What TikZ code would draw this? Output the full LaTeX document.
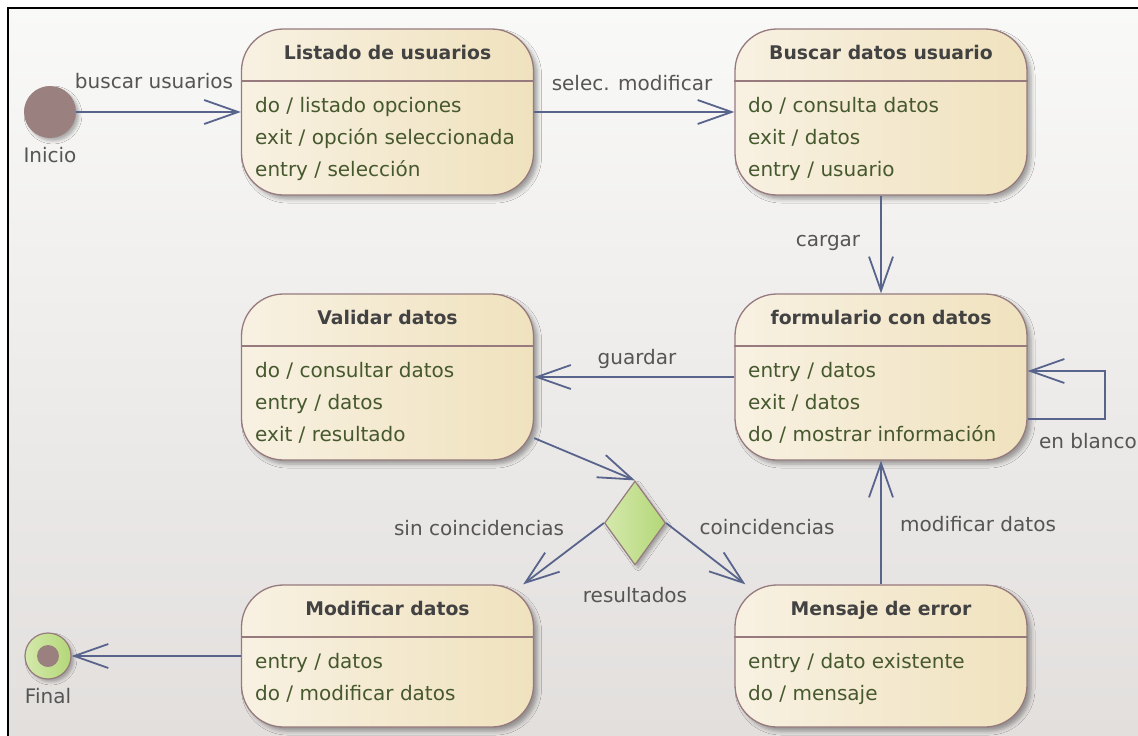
\documentclass[tikz,border=0pt]{standalone}
\usepackage{fontspec}
\setmainfont{DejaVu Sans}
\usetikzlibrary{arrows.meta,shapes.geometric,shadows.blur}
\definecolor{bgtop}{RGB}{249,249,248}
\definecolor{bgbot}{RGB}{226,223,221}
\definecolor{boxborder}{RGB}{150,122,125}
\definecolor{boxleft}{RGB}{248,241,226}
\definecolor{boxright}{RGB}{240,226,190}
\definecolor{bodyc}{RGB}{70,88,45}
\definecolor{titlec}{RGB}{66,66,66}
\definecolor{labelc}{RGB}{85,85,85}
\definecolor{arrowc}{RGB}{88,100,140}
\definecolor{initc}{RGB}{155,128,128}
\definecolor{greenl}{RGB}{212,233,172}
\definecolor{greenr}{RGB}{180,215,120}
\tikzset{
  statebox/.style={draw=boxborder, line width=1.3pt, rounded corners=42pt,
    left color=boxleft, right color=boxright, minimum width=292pt, inner sep=0pt,
    blur shadow={shadow xshift=4pt, shadow yshift=-4pt, shadow blur radius=4pt, shadow opacity=35}},
  ttl/.style={font=\fontsize{18.8}{22}\selectfont\bfseries, text=titlec, anchor=base, inner sep=0pt},
  body/.style={font=\fontsize{20}{24}\selectfont, text=bodyc, anchor=base west, inner sep=0pt},
  lbl/.style={font=\fontsize{20}{24}\selectfont, text=labelc, anchor=base, inner sep=0pt},
  sepline/.style={draw=boxborder, line width=1.3pt},
  arr/.style={draw=arrowc, line width=1.8pt, -{Straight Barb[length=34pt,width=24pt]}},
  initst/.style={circle, fill=initc, minimum size=52pt, inner sep=0pt,
    blur shadow={shadow xshift=3pt, shadow yshift=-3pt, shadow blur radius=3pt, shadow opacity=30}},
  finalst/.style={circle, draw=boxborder, line width=1.2pt, left color=greenl, right color=greenr,
    minimum size=46pt, inner sep=0pt,
    blur shadow={shadow xshift=3pt, shadow yshift=-3pt, shadow blur radius=3pt, shadow opacity=30}},
  finaldot/.style={circle, fill=initc, minimum size=22pt, inner sep=0pt},
  decision/.style={diamond, draw=boxborder, line width=1.2pt, left color=greenl, right color=greenr,
    minimum width=61pt, minimum height=84pt, inner sep=0pt,
    blur shadow={shadow xshift=3pt, shadow yshift=-3pt, shadow blur radius=3pt, shadow opacity=30}}
}
\begin{document}
\begin{tikzpicture}[x=1pt,y=-1pt]
\useasboundingbox (0,0) rectangle (1138,736);
\fill[white] (0,0) rectangle (1138,736);
\shade[top color=bgtop, bottom color=bgbot] (8,8) rectangle (1138,736);
\draw[black, line width=2pt] (8,736) -- (8,8) -- (1138,8);

% states
\node[statebox, minimum height=166pt] (listado) at (387.5,112) {};
\node[statebox, minimum height=166pt] (buscar) at (881,112) {};
\node[statebox, minimum height=166pt] (validar) at (387.5,377) {};
\node[statebox, minimum height=166pt] (form) at (881,377) {};
\node[statebox, minimum height=142pt] (modif) at (387.5,656) {};
\node[statebox, minimum height=142pt] (mensaje) at (881,656) {};

% separators
\draw[sepline] (listado.west |- 0,81) -- (listado.east |- 0,81);
\draw[sepline] (buscar.west |- 0,81) -- (buscar.east |- 0,81);
\draw[sepline] (validar.west |- 0,346) -- (validar.east |- 0,346);
\draw[sepline] (form.west |- 0,346) -- (form.east |- 0,346);
\draw[sepline] (modif.west |- 0,637) -- (modif.east |- 0,637);
\draw[sepline] (mensaje.west |- 0,637) -- (mensaje.east |- 0,637);

% titles
\node[ttl] (tlistado) at (387.5,59) {Listado de usuarios};
\node[ttl] (tbuscar) at (881,59) {Buscar datos usuario};
\node[ttl] (tvalidar) at (387.5,324) {Validar datos};
\node[ttl] (tform) at (881,324) {formulario con datos};
\node[ttl] (tmodif) at (387.5,615) {Modificar datos};
\node[ttl] (tmensaje) at (881,615) {Mensaje de error};

% bodies
\node[body] (la) at (255,112) {do / listado opciones};
\node[body] (lb) at (255,144) {exit / opción seleccionada};
\node[body] (lc) at (255,176) {entry / selección};
\node[body] (ba) at (748,112) {do / consulta datos};
\node[body] (bb) at (748,144) {exit / datos};
\node[body] (bc) at (748,176) {entry / usuario};
\node[body] (va) at (255,377) {do / consultar datos};
\node[body] (vb) at (255,409) {entry / datos};
\node[body] (vc) at (255,441) {exit / resultado};
\node[body] (fa) at (748,377) {entry / datos};
\node[body] (fb) at (748,409) {exit / datos};
\node[body] (fc) at (748,441) {do / mostrar información};
\node[body] (ma) at (255,668) {entry / datos};
\node[body] (mb) at (255,700) {do / modificar datos};
\node[body] (ea) at (748,668) {entry / dato existente};
\node[body] (eb) at (748,700) {do / mensaje};

% pseudo states
\node[initst] (ini) at (50,112) {};
\node[finalst] (fin) at (48,656) {};
\node[finaldot] (findot) at (fin) {};
\node[decision] (dec) at (635,523) {};

% connectors
\draw[arr] (ini) -- (listado);
\draw[arr] (listado) -- (buscar);
\draw[arr] (buscar) -- (form);
\draw[arr] (form) -- (validar);
\coordinate (loopA) at (1105,419);
\coordinate (loopB) at (1105,371);
\draw[arr] ([yshift=-42pt]form.east) -- (loopA) -- (loopB) -- ([yshift=6pt]form.east);
\draw[arr] (validar) -- (dec.north);
\draw[arr] (dec.west) -- ([xshift=-11pt]modif.north east);
\draw[arr] (dec.east) -- ([xshift=11pt]mensaje.north west);
\draw[arr] (mensaje.north) -- (mensaje.north |- form.south);
\draw[arr] (modif) -- (fin);

% labels
\node[lbl] (lini) at (50,162) {Inicio};
\node[lbl] (lfin) at (48,703) {Final};
\node[lbl] (e1) at (154,88) {buscar usuarios};
\node[lbl] (e2) at (632,90) {selec. modificar};
\node[lbl] (e3) at (828,246) {cargar};
\node[lbl] (e4) at (637,364) {guardar};
\node[lbl] (e5) at (1088,448) {en blanco};
\node[lbl] (e6) at (479,535) {sin coincidencias};
\node[lbl] (e7) at (767,534) {coincidencias};
\node[lbl] (e8) at (635,602) {resultados};
\node[lbl] (e9) at (978,531) {modificar datos};
\end{tikzpicture}
\end{document}
